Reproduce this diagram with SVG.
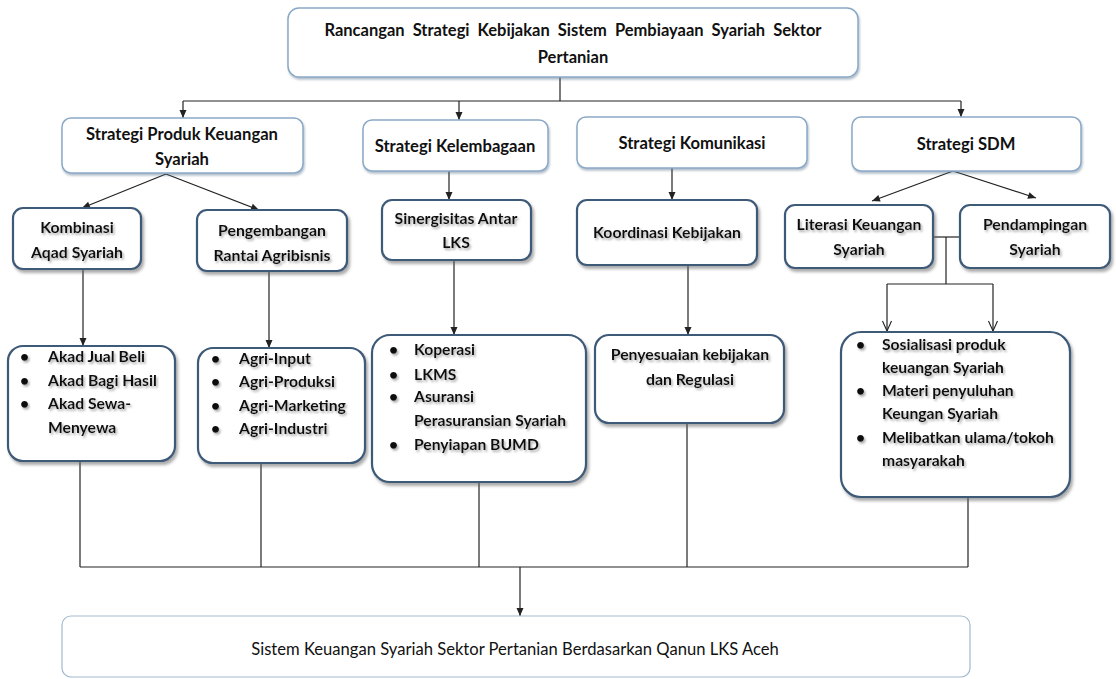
<svg xmlns="http://www.w3.org/2000/svg" width="1116" height="679" viewBox="0 0 1116 679">
<style>
  text { font-family: Lato, "Open Sans", "Liberation Sans", sans-serif; fill: #111; }
  .t1 { font-size: 16.5px; font-weight: 700; text-anchor: middle; word-spacing: 4px; }
  .t2 { font-size: 16.6px; font-weight: 700; text-anchor: middle; }
  .t3 { font-size: 15.8px; font-weight: 700; text-anchor: middle; filter: url(#tshadow); }
  .tb { font-size: 15.7px; font-weight: 700; filter: url(#tshadow); }
  .t4 { font-size: 16.6px; font-weight: 400; text-anchor: middle; }
  .light { fill: #fff; stroke: #8aa9c6; stroke-width: 1.5; filter: url(#bshadow); }
  .dark { fill: #fff; stroke: #3e5a78; stroke-width: 2.2; filter: url(#dshadow); }
  .bottom { fill: #fff; stroke: #a3bad0; stroke-width: 1.2; }
  .c { fill: none; stroke: #222; stroke-width: 1.2; }
  .a { marker-end: url(#arr); }
  .o { marker-end: url(#open); }
</style>
<defs>
  <marker id="arr" markerUnits="userSpaceOnUse" markerWidth="10" markerHeight="10" viewBox="0 0 10 10" refX="9" refY="5" orient="auto">
    <path d="M1,1.5 L9,5 L1,8.5 Z" fill="#222"/>
  </marker>
  <marker id="open" markerUnits="userSpaceOnUse" markerWidth="12" markerHeight="12" viewBox="0 0 12 12" refX="11" refY="6" orient="auto">
    <path d="M1,1.5 L11,6 L1,10.5" fill="none" stroke="#222" stroke-width="1.1"/>
  </marker>
  <filter id="bshadow" x="-10%" y="-20%" width="120%" height="150%">
    <feDropShadow dx="1" dy="2" stdDeviation="1" flood-color="#55708c" flood-opacity="0.45"/>
  </filter>
  <filter id="dshadow" x="-10%" y="-10%" width="130%" height="140%">
    <feDropShadow dx="2" dy="3" stdDeviation="1.8" flood-color="#666" flood-opacity="0.55"/>
  </filter>
  <filter id="tshadow" x="-10%" y="-30%" width="120%" height="180%">
    <feDropShadow dx="1.5" dy="2" stdDeviation="1.2" flood-color="#888" flood-opacity="0.7"/>
  </filter>
</defs>

<g id="connectors">
  <path class="c" d="M560,77 V101"/>
  <path class="c" d="M183,101 H961"/>
  <path class="c a" d="M183,101 V118"/>
  <path class="c a" d="M459,101 V120"/>
  <path class="c a" d="M961,101 V117"/>
  <path class="c a" d="M166,174 L82,208"/>
  <path class="c a" d="M166,174 L259,210"/>
  <path class="c a" d="M449,171 V200"/>
  <path class="c a" d="M672,168 V200"/>
  <path class="c a" d="M953,171 L872,201"/>
  <path class="c a" d="M953,171 L1036,198"/>
  <path class="c" d="M933,237 H960"/>
  <path class="c" d="M946,237 V284"/>
  <path class="c" d="M887,284 H993"/>
  <path class="c o" d="M887,284 V331"/>
  <path class="c o" d="M993,284 V331"/>
  <path class="c a" d="M83,269 V346"/>
  <path class="c a" d="M269,271 V348"/>
  <path class="c a" d="M454,260 V335"/>
  <path class="c a" d="M688,265 V335"/>
  <path class="c" d="M80,461 V567"/>
  <path class="c" d="M261,463 V567"/>
  <path class="c" d="M479,482 V567"/>
  <path class="c" d="M687,423 V567"/>
  <path class="c" d="M968,497 V567"/>
  <path class="c" d="M80,567 H968"/>
  <path class="c a" d="M520,567 V616"/>
</g>

<g id="top">
  <rect class="light" x="288" y="8" width="570" height="69" rx="11"/>
  <text class="t1" x="573" y="36">Rancangan Strategi Kebijakan Sistem Pembiayaan Syariah Sektor</text>
  <text class="t1" x="573" y="63">Pertanian</text>
</g>

<g id="s-produk">
  <rect class="light" x="62" y="118" width="241" height="55" rx="9"/>
  <text class="t2" x="182" y="140">Strategi Produk Keuangan</text>
  <text class="t2" x="182" y="165">Syariah</text>
</g>
<g id="s-kelembagaan">
  <rect class="light" x="363" y="120" width="185" height="51" rx="9"/>
  <text class="t2" x="455" y="152">Strategi Kelembagaan</text>
</g>
<g id="s-komunikasi">
  <rect class="light" x="577" y="117" width="230" height="51" rx="9"/>
  <text class="t2" x="692" y="149">Strategi Komunikasi</text>
</g>
<g id="s-sdm">
  <rect class="light" x="852" y="117" width="229" height="54" rx="9"/>
  <text class="t2" x="966" y="150">Strategi SDM</text>
</g>

<g id="kombinasi">
  <rect class="dark" x="13" y="208" width="128" height="61" rx="10"/>
  <text class="t3" x="77" y="233">Kombinasi</text>
  <text class="t3" x="77" y="258">Aqad Syariah</text>
</g>
<g id="pengembangan">
  <rect class="dark" x="197" y="210" width="150" height="61" rx="10"/>
  <text class="t3" x="272" y="236">Pengembangan</text>
  <text class="t3" x="272" y="261">Rantai Agribisnis</text>
</g>
<g id="sinergisitas">
  <rect class="dark" x="382" y="200" width="149" height="60" rx="10"/>
  <text class="t3" x="456" y="224">Sinergisitas Antar</text>
  <text class="t3" x="456" y="248">LKS</text>
</g>
<g id="koordinasi">
  <rect class="dark" x="577" y="200" width="180" height="65" rx="10"/>
  <text class="t3" x="667" y="238">Koordinasi Kebijakan</text>
</g>
<g id="literasi">
  <rect class="dark" x="785" y="205" width="148" height="63" rx="10"/>
  <text class="t3" x="859" y="230">Literasi Keuangan</text>
  <text class="t3" x="859" y="255">Syariah</text>
</g>
<g id="pendampingan">
  <rect class="dark" x="960" y="205" width="150" height="63" rx="10"/>
  <text class="t3" x="1035" y="230">Pendampingan</text>
  <text class="t3" x="1035" y="255">Syariah</text>
</g>

<g id="akad">
  <rect class="dark" x="8" y="346" width="167" height="115" rx="15"/>
  <text class="tb" x="20" y="362">•</text><text class="tb" x="48" y="362">Akad Jual Beli</text>
  <text class="tb" x="20" y="386">•</text><text class="tb" x="48" y="386">Akad Bagi Hasil</text>
  <text class="tb" x="20" y="409">•</text><text class="tb" x="48" y="409">Akad Sewa-</text>
  <text class="tb" x="48" y="433">Menyewa</text>
</g>
<g id="agri">
  <rect class="dark" x="198" y="348" width="167" height="115" rx="15"/>
  <text class="tb" x="211" y="364">•</text><text class="tb" x="239" y="364">Agri-Input</text>
  <text class="tb" x="211" y="387">•</text><text class="tb" x="239" y="387">Agri-Produksi</text>
  <text class="tb" x="211" y="411">•</text><text class="tb" x="239" y="411">Agri-Marketing</text>
  <text class="tb" x="211" y="434">•</text><text class="tb" x="239" y="434">Agri-Industri</text>
</g>
<g id="koperasi">
  <rect class="dark" x="372" y="335" width="214" height="147" rx="18"/>
  <text class="tb" x="389" y="355">•</text><text class="tb" x="414" y="355">Koperasi</text>
  <text class="tb" x="389" y="380">•</text><text class="tb" x="414" y="380">LKMS</text>
  <text class="tb" x="389" y="402">•</text><text class="tb" x="414" y="402">Asuransi</text>
  <text class="tb" x="414" y="426">Perasuransian Syariah</text>
  <text class="tb" x="389" y="450">•</text><text class="tb" x="414" y="450">Penyiapan BUMD</text>
</g>
<g id="penyesuaian">
  <rect class="dark" x="595" y="335" width="189" height="88" rx="14"/>
  <text class="t3" x="690" y="360">Penyesuaian kebijakan</text>
  <text class="t3" x="690" y="385">dan Regulasi</text>
</g>
<g id="sosialisasi">
  <rect class="dark" x="841" y="332" width="229" height="165" rx="20"/>
  <text class="tb" x="856" y="350">•</text><text class="tb" x="882" y="350">Sosialisasi produk</text>
  <text class="tb" x="882" y="373">keuangan Syariah</text>
  <text class="tb" x="856" y="396">•</text><text class="tb" x="882" y="396">Materi penyuluhan</text>
  <text class="tb" x="882" y="419">Keungan Syariah</text>
  <text class="tb" x="856" y="443">•</text><text class="tb" x="882" y="443">Melibatkan ulama/tokoh</text>
  <text class="tb" x="882" y="466">masyarakah</text>
</g>

<g id="sistem">
  <rect class="bottom" x="62" y="616" width="908" height="61" rx="9"/>
  <text class="t4" x="515" y="655">Sistem Keuangan Syariah Sektor Pertanian Berdasarkan Qanun LKS Aceh</text>
</g>
</svg>
